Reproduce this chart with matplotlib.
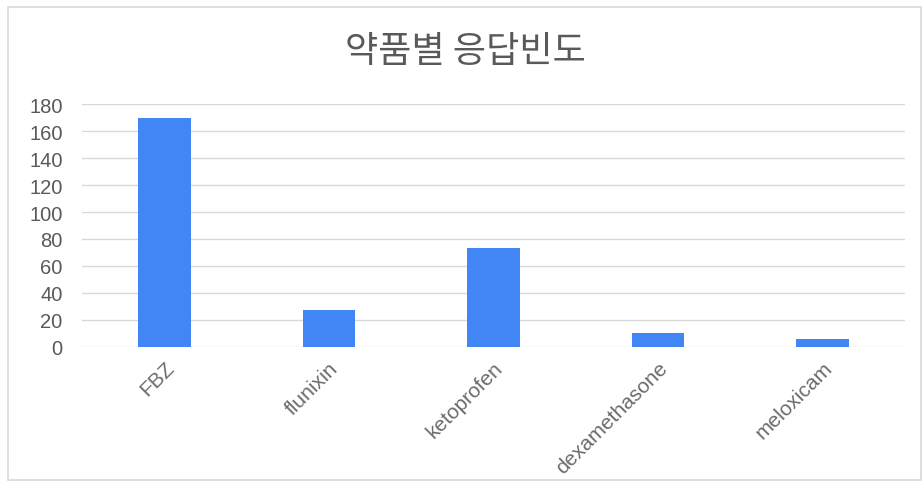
import matplotlib.pyplot as plt
from matplotlib.patches import Rectangle

# 약품별 응답 빈도
drugs = ["FBZ", "flunixin", "ketoprofen", "dexamethasone", "meloxicam"]
counts = [170, 27, 73, 10, 6]
yticks = list(range(0, 181, 20))

plt.rcParams['font.family'] = ['Liberation Sans', 'Noto Sans CJK KR', 'DejaVu Sans']

fig = plt.figure(figsize=(9.22, 4.85), dpi=100)
ax = fig.add_axes([0.0889, 0.2831, 0.8926, 0.4998])

# 차트 영역 테두리
fig.patches.append(Rectangle((8 / 922, 4 / 485), 913 / 922, 473 / 485,
                             transform=fig.transFigure, fill=False,
                             edgecolor='#d9d9d9', lw=1.2))

x = range(len(drugs))
ax.bar(x, counts, width=0.32, color='#4285F4', zorder=3)

ax.set_xlim(-0.5, len(drugs) - 0.5)
ax.set_ylim(0, 180)
ax.set_yticks(yticks)
ax.set_yticklabels([str(v) for v in yticks], fontsize=14.5, color='#595959')
ax.set_xticks(list(x))
ax.set_xticklabels(drugs, rotation=45, ha='right', rotation_mode='anchor',
                   fontsize=15, color='#6b6b6b')
ax.tick_params(axis='both', length=0)
ax.tick_params(axis='y', pad=14)
ax.tick_params(axis='x', pad=8)

ax.grid(axis='y', color='#d9d9d9', lw=1, zorder=0)
for s in ax.spines.values():
    s.set_visible(False)

fig.text(0.505, 0.893, "약품별 응답빈도", ha='center', va='center',
         fontsize=26, fontweight='light', color='#595959',
         family=['Noto Sans CJK KR', 'DejaVu Sans'])

fig.savefig('out.png', dpi=100)
